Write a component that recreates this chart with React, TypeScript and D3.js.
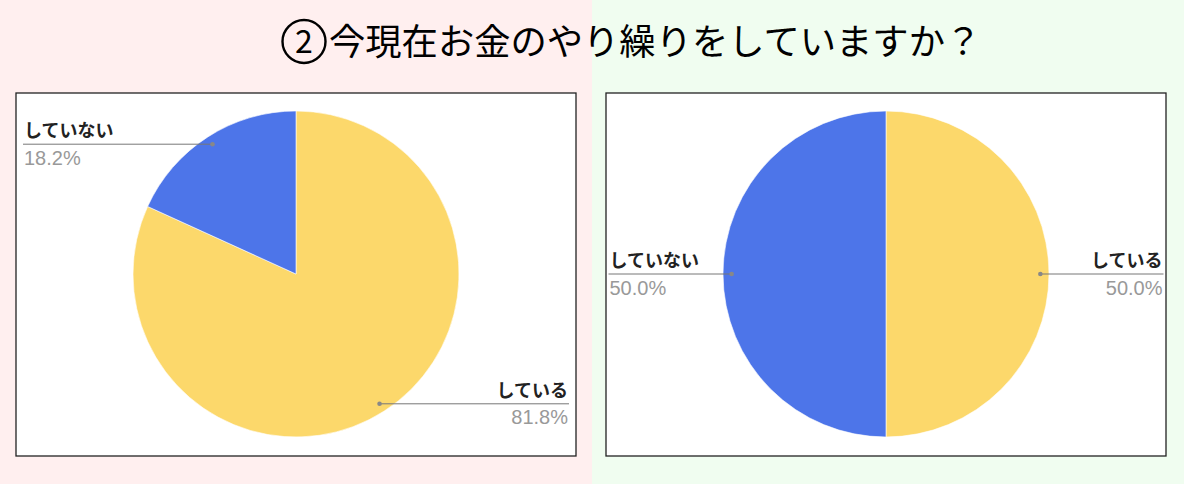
import * as d3 from 'd3';
import React from 'react';

// 設問タイトル
const titleNumber = '2';
const title = '今現在お金のやり繰りをしていますか？';

// カテゴリと値 (%)
const categories = ['している', 'していない'];
const leftValues = [81.8, 18.2];
const rightValues = [50.0, 50.0];
const colors = ['#FCD86B', '#4D75E9'];

const W = 1184;
const H = 484;

const PieBox = ({ x, values, pad }: { x: number; values: number[]; pad: number }) => {
    const boxW = 560;
    const boxTop = 93;
    const boxH = 363;
    const cx = boxW / 2;
    const cy = 181;
    const r = 163;

    const data = categories.map((c, i) => ({ name: c, value: values[i] }));
    const total = d3.sum(values);
    const pie = d3.pie<any>().value((d: any) => d.value).sort(null);
    const arcs = pie(data);
    const arc = d3.arc<any>().innerRadius(0).outerRadius(r);
    const pct = d3.format('.1%');

    return (
        <g transform={`translate(${x},${boxTop})`}>
            <rect x={0} y={0} width={boxW} height={boxH} fill="#fff" stroke="#222" strokeWidth={1.3} />
            <g transform={`translate(${cx},${cy})`}>
                {arcs.map((a, i) => (
                    <path key={i} d={arc(a) as string} fill={colors[i]} stroke="#fff" strokeWidth={0.6} />
                ))}
            </g>
            {arcs.map((a, i) => {
                const mid = (a.startAngle + a.endAngle) / 2;
                const dx = Math.sin(mid) * r * 0.947;
                const dy = -Math.cos(mid) * r * 0.947;
                const px = cx + dx;
                const py = cy + dy;
                const right = dx > 0;
                const edge = right ? boxW - pad : pad;
                return (
                    <g key={'l' + i}>
                        <line x1={px} y1={py} x2={right ? edge + 1 : edge - 1} y2={py} stroke="#777" strokeWidth={1} />
                        <circle cx={px} cy={py} r={2.3} fill="#888" />
                        <text x={edge} y={py - 7} textAnchor={right ? 'end' : 'start'}
                            fontFamily="'Noto Sans CJK JP', sans-serif" fontWeight={700} fontSize={18} fill="#222">
                            {a.data.name}
                        </text>
                        <text x={edge} y={py + 20.5} textAnchor={right ? 'end' : 'start'}
                            fontFamily="Arial, 'Liberation Sans', sans-serif" fontSize={20} fill="#999">
                            {pct(a.data.value / total)}
                        </text>
                    </g>
                );
            })}
        </g>
    );
};

export default function App() {
    return (
        <svg width={W} height={H} style={{ position: 'absolute', left: 0, top: 0 }}>
            <rect x={0} y={0} width={592} height={H} fill="#FFEFEF" />
            <rect x={592} y={0} width={W - 592} height={H} fill="#F0FDF0" />
            <circle cx={304} cy={41.5} r={21.5} fill="none" stroke="#000" strokeWidth={2.4} />
            <text x={304} y={53} textAnchor="middle" fontFamily="'Noto Sans CJK JP', sans-serif"
                fontSize={32} fill="#000">
                {titleNumber}
            </text>
            <text x={329} y={55} fontFamily="'Noto Sans CJK JP', sans-serif"
                fontSize={36.3} fill="#000">
                {title}
            </text>
            <PieBox x={16} values={leftValues} pad={8} />
            <PieBox x={606} values={rightValues} pad={3.5} />
        </svg>
    );
}
